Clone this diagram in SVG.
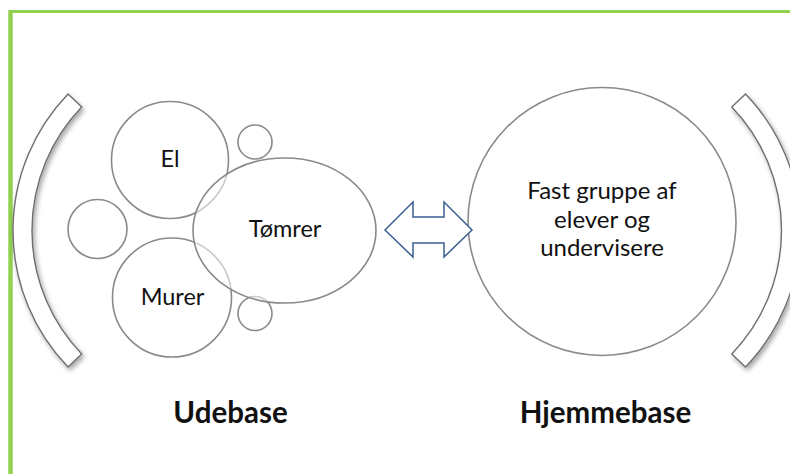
<svg xmlns="http://www.w3.org/2000/svg" width="790" height="474" viewBox="0 0 790 474">
  <defs>
    <filter id="shadow" x="-30%" y="-10%" width="160%" height="120%">
      <feGaussianBlur in="SourceAlpha" stdDeviation="2.5"/>
      <feOffset dx="2" dy="3" result="b"/>
      <feComponentTransfer><feFuncA type="linear" slope="0.35"/></feComponentTransfer>
      <feMerge><feMergeNode/><feMergeNode in="SourceGraphic"/></feMerge>
    </filter>
  </defs>
  <style>
    .bubble { fill: #ffffff; fill-opacity: 0.55; stroke: #8a8a8a; stroke-width: 1.6; }
    .bracket { fill: #ffffff; stroke: #6e6e6e; stroke-width: 1.4; }
    .lbl { font-family: Lato, "Open Sans", "Liberation Sans", sans-serif; fill: #111111; text-anchor: middle; }
    .small { font-size: 23.5px; }
    .body { font-size: 24px; }
    .title { font-size: 29.5px; font-weight: bold; }
    .arrow { fill: #ffffff; stroke: #3a5f93; stroke-width: 1.5; stroke-linejoin: miter; }
  </style>
  <rect width="790" height="474" fill="#ffffff"/>
  <!-- green frame -->
  <g id="frame" stroke="#92d050" fill="none">
    <line x1="10.5" y1="11.5" x2="790" y2="11.5" stroke-width="3"/>
    <line x1="10.5" y1="10" x2="10.5" y2="474" stroke-width="4.5"/>
  </g>
  <!-- brackets -->
  <g id="bracket-left" filter="url(#shadow)">
    <path class="bracket" d="M 68.04 93.9 A 197 197 0 0 0 68.04 367.1 L 81.7 353.9 A 178 178 0 0 1 81.7 107.1 Z"/>
  </g>
  <g id="bracket-right" filter="url(#shadow)">
    <path class="bracket" d="M 745.46 93.9 A 197 197 0 0 1 745.46 367.1 L 731.8 353.9 A 178 178 0 0 0 731.8 107.1 Z"/>
  </g>
  <!-- Udebase cluster -->
  <g id="node-small-top"><circle class="bubble" cx="255" cy="142" r="17"/></g>
  <g id="node-small-left"><circle class="bubble" cx="97.5" cy="229" r="29.5"/></g>
  <g id="node-small-bottom"><circle class="bubble" cx="255" cy="313.5" r="17"/></g>
  <g id="node-el">
    <circle class="bubble" cx="170" cy="160" r="58.5"/>
    <text class="lbl small" x="170" y="167">El</text>
  </g>
  <g id="node-murer">
    <circle class="bubble" cx="172" cy="297.5" r="59.5"/>
    <text class="lbl small" x="172.5" y="305">Murer</text>
  </g>
  <g id="node-tomrer">
    <ellipse class="bubble" cx="284.5" cy="230.5" rx="91.5" ry="72.5"/>
    <text class="lbl small" x="285" y="237">Tømrer</text>
  </g>
  <!-- Hjemmebase -->
  <g id="node-hjemmebase">
    <circle class="bubble" cx="602" cy="221.5" r="134"/>
    <text class="lbl body" x="602" y="199">Fast gruppe af</text>
    <text class="lbl body" x="602" y="227.5">elever og</text>
    <text class="lbl body" x="602" y="256">undervisere</text>
  </g>
  <!-- connectors -->
  <g id="connectors">
    <polygon class="arrow" points="385,230 413,202 413,217 444,217 444,202 472,230 444,257 444,243 413,243 413,257"/>
  </g>
  <!-- captions -->
  <g id="captions">
    <text class="lbl title" x="230.5" y="423">Udebase</text>
    <text class="lbl title" x="605.5" y="423">Hjemmebase</text>
  </g>
</svg>
